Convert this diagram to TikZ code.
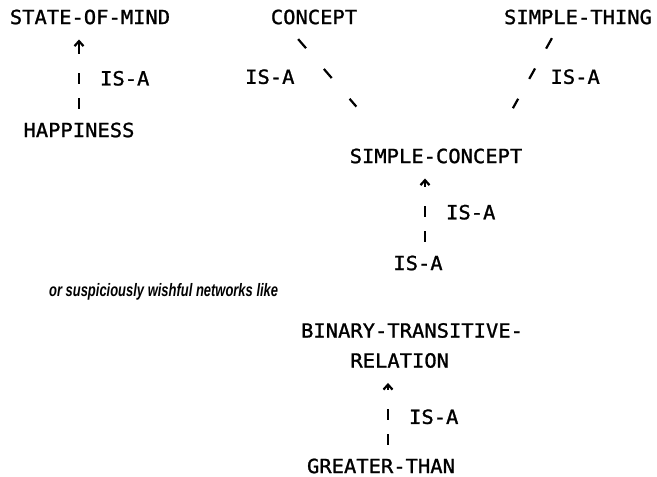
\documentclass[tikz,border=0pt]{standalone}
\usepackage{fontspec}
\setmonofont[FakeStretch=1.05,FakeBold=1.2]{DejaVu Sans Mono}
\newfontfamily\notefont[FakeStretch=0.72]{Liberation Sans}
\usetikzlibrary{arrows.meta}

\begin{document}
\begin{tikzpicture}[x=1pt,y=-1pt,>={Straight Barb[length=5pt,width=9pt]},line width=2.2pt]
	\tikzstyle{every node}=[font=\ttfamily\fontsize{19.5}{30}\selectfont,inner sep=0pt]
	\tikzstyle{isa}=[->,dash pattern=on 11pt off 14pt on 11pt off 19pt on 30pt,shorten <=13pt,shorten >=14pt]
	\tikzstyle{link}=[dash pattern=on 12pt off 25pt]
	\tikzstyle{note}=[font=\notefont\bfseries\itshape\fontsize{18}{20}\selectfont]

  \useasboundingbox (0,0) rectangle (657,477);

  \node (A) at (90,17)  {STATE-OF-MIND};
  \node (B) at (79,130) {HAPPINESS};
  \node (C) at (314,17) {CONCEPT};
  \node (E) at (578,17) {SIMPLE-THING};
  \node (D) at (436,156) {SIMPLE-CONCEPT};
  \node (H) at (418,263) {IS-A};
  \node[note,anchor=base west] (N) at (48,296) {or suspiciously wishful networks like};
  \node[align=left,anchor=north west] (F) at (300,322) {BINARY-TRANSITIVE-\\\phantom{BINA}RELATION};
  \node (G) at (381,466) {GREATER-THAN};

  \path (B.north) edge[isa] node[pos=.45,right=20pt] {IS-A} (B.north |- A.south)
        ([xshift=-27.6pt]C.south) edge[link,dash pattern=on 12pt off 27.4pt,shorten <=18pt,shorten >=54pt]
              node[pos=.42,left=35pt] {IS-A} ([xshift=-44.4pt]D.north)
        ([xshift=-19pt]E.south) edge[link,dash pattern=on 12pt off 22.7pt,shorten <=14.5pt,shorten >=45pt]
              node[pos=.42,right=19pt] {IS-A} ([xshift=55pt]D.north)
        ([xshift=7pt]H.north) edge[isa] node[pos=.47,right=20pt] {IS-A} ([xshift=7pt]H.north |- D.south)
        ([xshift=7pt]G.north) edge[isa] node[pos=.46,right=20pt] {IS-A} ([xshift=7pt]G.north |- F.south);

\end{tikzpicture}
\end{document}
